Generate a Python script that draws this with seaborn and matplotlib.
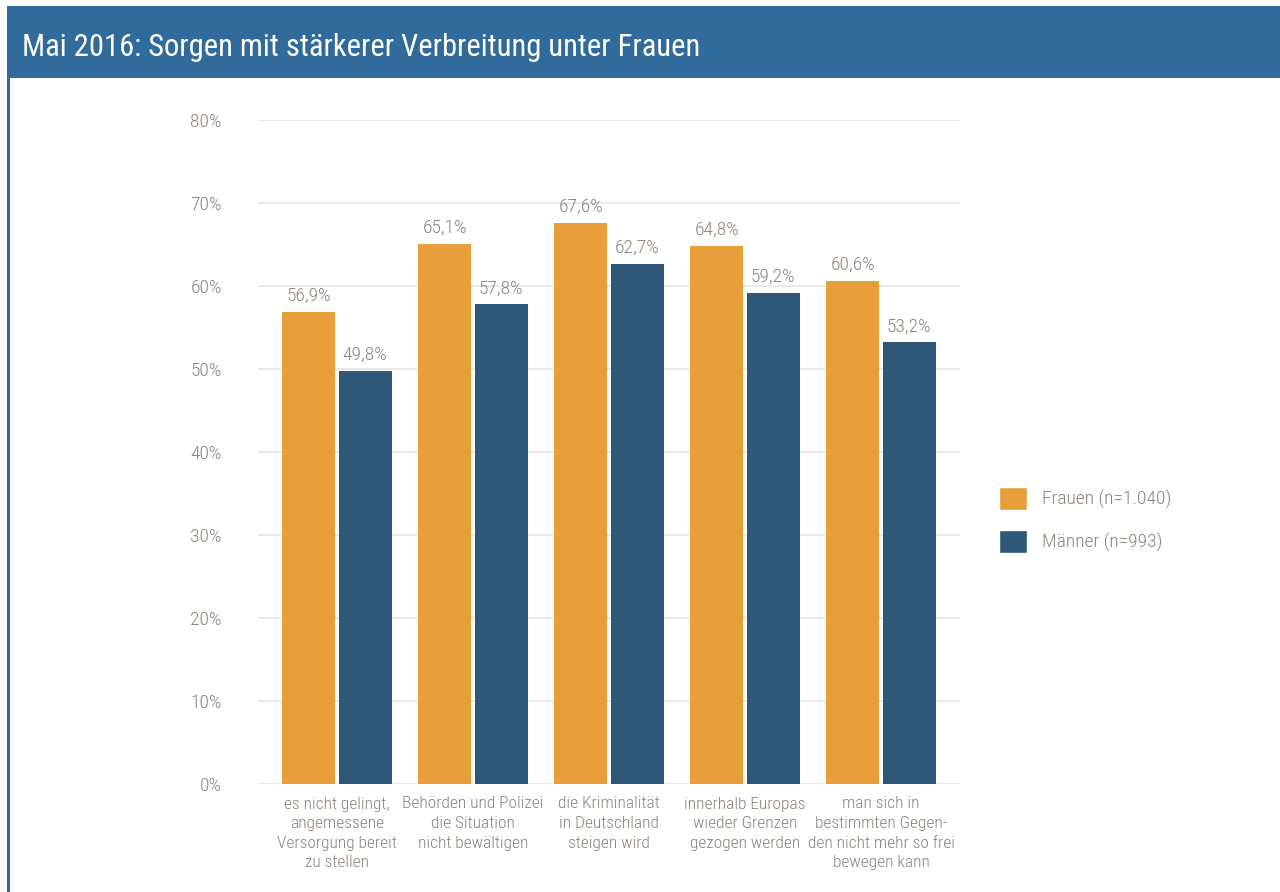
import seaborn as sns
import matplotlib.pyplot as plt
import pandas as pd
from matplotlib.patches import Rectangle, Patch

# data
categories = ["es nicht gelingt,\nangemessene\nVersorgung bereit\nzu stellen",
              "Behörden und Polizei\ndie Situation\nnicht bewältigen",
              "die Kriminalität\nin Deutschland\nsteigen wird",
              "innerhalb Europas\nwieder Grenzen\ngezogen werden",
              "man sich in\nbestimmten Gegen-\nden nicht mehr so frei\nbewegen kann"]
frauen = [56.9, 65.1, 67.6, 64.8, 60.6]
maenner = [49.8, 57.8, 62.7, 59.2, 53.2]
series = ["Frauen (n=1.040)", "Männer (n=993)"]
yticks = [0, 10, 20, 30, 40, 50, 60, 70, 80]

df = pd.DataFrame({
    "cat": categories * 2,
    "val": frauen + maenner,
    "grp": [series[0]] * len(categories) + [series[1]] * len(categories),
})

orange = "#E89E3A"
blue = "#2F5878"
txt = "#8C8279"
band = "#306B9B"

sns.set_style("white")
plt.rcParams["font.family"] = ["Roboto Condensed", "DejaVu Sans"]
plt.rcParams["font.weight"] = "light"

fig = plt.figure(figsize=(12.8, 8.92), dpi=100)
W, H = 1280, 892

# header band + left frame line
fig.patches.append(Rectangle((7 / W, 1 - 78 / H), 1 - 7 / W, 72 / H, transform=fig.transFigure,
                             facecolor=band, edgecolor="none", zorder=0))
fig.patches.append(Rectangle((7 / W, 0), 2.5 / W, 1 - 78 / H, transform=fig.transFigure,
                             facecolor=band, edgecolor="none", zorder=0))
fig.text(22 / W, 1 - 47 / H, "Mai 2016: Sorgen mit stärkerer Verbreitung unter Frauen",
         color="white", fontsize=22, va="center", ha="left", fontweight="normal")

ax = fig.add_axes([258 / W, 1 - 784 / H, (960 - 258) / W, (784 - 120) / H])
sns.barplot(data=df, x="cat", y="val", hue="grp", palette=[orange, blue],
            width=0.83, gap=0.06, ax=ax, legend=False, saturation=1, linewidth=0)

for c in ax.containers:
    ax.bar_label(c, labels=[f"{v:.1f}%".replace(".", ",") for v in c.datavalues],
                 padding=5, color=txt, fontsize=14)

ax.set_ylim(0, 80)
ax.set_xlim(-0.58, 4.58)
ax.set_yticks(yticks)
ax.set_yticklabels([f"{t}%" for t in yticks], color=txt, fontsize=14)
ax.tick_params(axis="x", labelsize=12.5, labelcolor=txt, length=0, pad=9)
ax.tick_params(axis="y", length=0, pad=26)
ax.yaxis.grid(True, color="#E8E8E8", linewidth=1.5)
ax.set_axisbelow(True)
for s in ax.spines.values():
    s.set_visible(False)
ax.set_xlabel("")
ax.set_ylabel("")
for lab in ax.get_xticklabels():
    lab.set_linespacing(1.38)

handles = [Patch(facecolor=orange), Patch(facecolor=blue)]
fig.legend(handles, series, loc="center left", bbox_to_anchor=(981 / W, 1 - 520 / H),
           frameon=False, fontsize=14, labelcolor=txt, handlelength=1.45, handleheight=1.45,
           handletextpad=0.8, labelspacing=1.05)

fig.savefig("out.png", dpi=100)
